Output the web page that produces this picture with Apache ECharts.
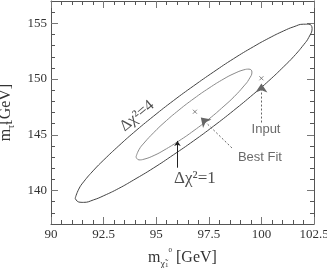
<!DOCTYPE html>
<html><head><meta charset="utf-8">
<script src="https://cdn.jsdelivr.net/npm/echarts@6/dist/echarts.min.js"></script>
<style>html,body{margin:0;padding:0;background:#fff}#c{width:327px;height:268px}</style>
</head><body><div id="c"></div>
<script>
// tick labels
const xTickLabels = ['90', '92.5', '95', '97.5', '100', '102.5'];
const yTickLabels = ['140', '145', '150', '155'];

// Δχ² = 4 contour, GeV
const outerX = [91.15, 91.32, 91.55, 92.03, 92.51, 93.22, 93.93, 94.88, 95.83, 96.78, 97.73, 98.68, 99.63, 100.35, 101.06, 101.54, 102.01, 102.25, 102.41,
                102.25, 102.01, 101.54, 101.06, 100.35, 99.63, 98.68, 97.73, 96.78, 95.83, 94.88, 93.93, 93.22, 92.51, 92.03, 91.55, 91.32, 91.15];
const outerY = [139.31, 140.13, 140.78, 141.83, 142.75, 144.01, 145.20, 146.68, 148.08, 149.39, 150.64, 151.83, 152.91, 153.66, 154.32, 154.69, 154.92, 154.92, 154.55,
                153.73, 153.08, 152.03, 151.11, 149.84, 148.66, 147.18, 145.78, 144.46, 143.22, 142.03, 140.95, 140.19, 139.54, 139.17, 138.94, 138.97, 139.31];

// Δχ² = 1 contour
const innerX = [94.04, 94.18, 94.42, 94.90, 95.37, 96.08, 96.80, 97.51, 98.22, 98.70, 99.17, 99.41, 99.55,
                99.41, 99.17, 98.70, 98.22, 97.51, 96.80, 96.08, 95.37, 94.90, 94.42, 94.18, 94.04];
const innerY = [143.01, 143.66, 144.26, 145.23, 146.08, 147.22, 148.26, 149.19, 150.02, 150.49, 150.83, 150.89, 150.63,
                149.98, 149.38, 148.41, 147.57, 146.42, 145.39, 144.45, 143.62, 143.15, 142.81, 142.75, 143.01];

// marked points
const bestFit = [96.84, 147.07];
const inputPoint = [100.0, 150.07];

const xTickValues = xTickLabels.map(Number);
const yTickValues = yTickLabels.map(Number);
const zip = (a, b) => a.map((v, i) => [v, b[i]]);

const axisColor = '#555';
const serif = '"Liberation Serif", "DejaVu Serif", serif';
const sans = '"Liberation Sans", Arial, sans-serif';

const nameRich = {
  m: { fontFamily: serif, fontSize: 16, color: '#333', lineHeight: 22 },
  s: { fontFamily: serif, fontSize: 10, color: '#333', verticalAlign: 'bottom', lineHeight: 10 },
  ss: { fontFamily: serif, fontSize: 7, color: '#333', verticalAlign: 'bottom', lineHeight: 7 },
  sp: { fontFamily: serif, fontSize: 7, color: '#333', verticalAlign: 'top', lineHeight: 7 }
};

function xAx(pos, labels) {
  return {
    type: 'value', min: 90, max: 102.5, interval: 2.5, position: pos,
    axisLine: { show: true, onZero: false, lineStyle: { color: axisColor, width: 1 } },
    axisTick: { show: true, inside: true, length: 7, lineStyle: { color: '#777' } },
    minorTick: { show: true, splitNumber: 5, length: 4, lineStyle: { color: axisColor } },
    axisLabel: labels ? { show: true, margin: 4, color: '#333', fontFamily: serif, fontSize: 13 } : { show: false },
    splitLine: { show: false }, minorSplitLine: { show: false },
    name: labels ? '{m|m}{s|χ̃}{ss|1}{sp|0}{m| [GeV]}' : '',
    nameLocation: 'middle', nameGap: 23, nameTextStyle: { rich: nameRich }
  };
}
function yMinor(pos, labels) {
  return {
    type: 'value', min: 137, max: 157, interval: 1, position: pos,
    axisLine: { show: true, onZero: false, lineStyle: { color: axisColor, width: 1 } },
    axisTick: { show: true, inside: true, length: 4, lineStyle: { color: axisColor } },
    axisLabel: labels ? {
      show: true, margin: 4, color: '#333', fontFamily: serif, fontSize: 13,
      formatter: v => (yTickValues.indexOf(v) >= 0 ? String(v) : '')
    } : { show: false },
    splitLine: { show: false },
    name: labels ? '{m|m}{s|τ̃}{m|[GeV]}' : '',
    nameLocation: 'middle', nameGap: 29, nameRotate: 90, nameTextStyle: { rich: nameRich }
  };
}
function yMajor(pos) {
  return {
    type: 'value', min: 137, max: 157, position: pos,
    axisLine: { show: false },
    axisTick: { show: true, inside: true, length: 7, customValues: yTickValues, lineStyle: { color: '#777' } },
    axisLabel: { show: false },
    splitLine: { show: false }
  };
}

const dashStyle = { color: '#666', type: [2, 2], width: 1 };
const solidStyle = { color: '#222', type: 'solid', width: 1 };

const chart = echarts.init(document.getElementById('c'), null, { renderer: 'canvas' });
chart.setOption({
  animation: false,
  backgroundColor: '#fff',
  grid: { left: 51, right: 13, top: 1, bottom: 44, containLabel: false, outerBoundsMode: 'none' },
  xAxis: [xAx('bottom', true), xAx('top', false)],
  yAxis: [yMinor('left', true), yMajor('left'), yMinor('right', false), yMajor('right')],
  series: [
    {
      type: 'line', name: 'dchi4', data: zip(outerX, outerY), smooth: 0.5, symbol: 'none',
      lineStyle: { color: '#444', width: 1 }
    },
    {
      type: 'line', name: 'dchi1', data: zip(innerX, innerY), smooth: 0.5, symbol: 'none',
      lineStyle: { color: '#8a8a8a', width: 1 }
    },
    {
      type: 'scatter', data: [bestFit, inputPoint], symbol: 'path://M0,0L10,10M10,0L0,10', symbolSize: 4,
      itemStyle: { color: 'transparent', borderColor: '#666', borderWidth: 1 },
      markLine: {
        silent: true, symbol: ['none', 'arrow'], symbolSize: 9,
        label: { show: false },
        data: [
          [{ coord: [100.0, 146.1], symbol: 'none', lineStyle: dashStyle },
           { coord: [100.0, 149.6], symbol: 'arrow', symbolSize: 9, lineStyle: dashStyle, itemStyle: { color: '#555' } }],
          [{ coord: [98.60, 143.82], symbol: 'none', lineStyle: dashStyle },
           { coord: [97.12, 146.55], symbol: 'arrow', symbolSize: 9, lineStyle: dashStyle, itemStyle: { color: '#555' } }],
          [{ coord: [96.01, 142.05], lineStyle: solidStyle, symbol: 'none' },
           { coord: [96.01, 144.45], lineStyle: solidStyle, symbol: 'arrow', symbolSize: 5 }]
        ]
      }
    },
    {
      type: 'scatter', symbolSize: 1, itemStyle: { color: 'transparent' },
      label: { show: true, position: 'inside' },
      data: [
        { value: [100.22, 145.52], label: { formatter: 'Input', fontFamily: sans, fontSize: 13, color: '#444' } },
        { value: [99.93, 143.01], label: { formatter: 'Best Fit', fontFamily: sans, fontSize: 13, color: '#444' } },
        { value: [96.84, 141.04], label: { formatter: 'Δχ²=1', fontFamily: serif, fontSize: 17, color: '#222' } },
        { value: [94.09, 146.69], label: { formatter: 'Δχ²=4', fontFamily: serif, fontSize: 16, color: '#222', rotate: 40 } }
      ]
    }
  ]
});
</script>
</body></html>
